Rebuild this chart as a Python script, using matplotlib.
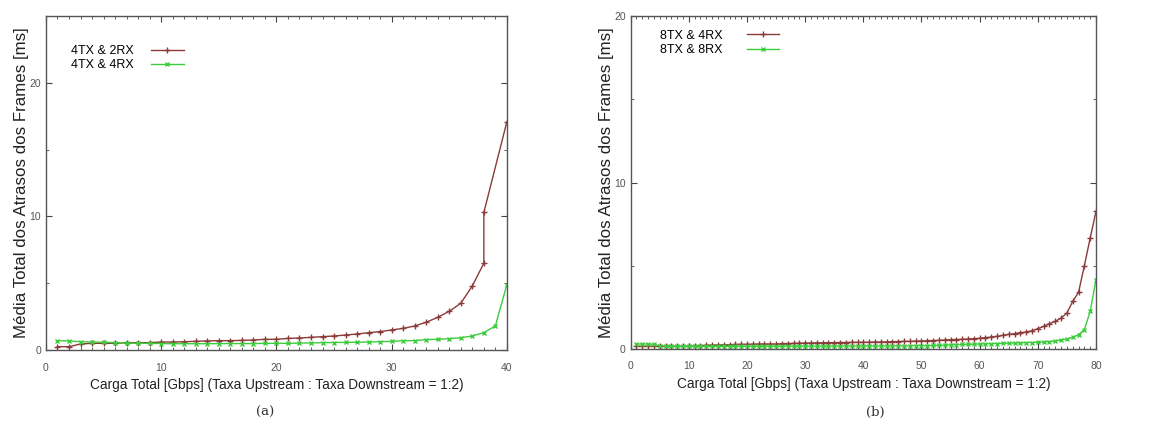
import numpy as np
import matplotlib
matplotlib.use('Agg')
import matplotlib.pyplot as plt
from matplotlib.ticker import MultipleLocator

plt.rcParams['font.family'] = ['Liberation Sans', 'DejaVu Sans']

# Panel (a): load 1..40 Gbps
x_a = list(range(1, 39)) + [38, 40]
red_a = [0.25, 0.25, 0.45, 0.5, 0.5, 0.5, 0.55, 0.55, 0.55, 0.6,
         0.6, 0.62, 0.65, 0.68, 0.7, 0.7, 0.72, 0.75, 0.8, 0.8,
         0.87, 0.9, 0.95, 1.0, 1.05, 1.12, 1.2, 1.3, 1.38, 1.5,
         1.62, 1.8, 2.08, 2.45, 2.9, 3.5, 4.8, 6.5, 10.3, 17.1]
x_a2 = list(range(1, 41))
green_a = [0.7, 0.68, 0.62, 0.6, 0.58, 0.55, 0.52, 0.5, 0.5, 0.48,
           0.47, 0.47, 0.47, 0.47, 0.48, 0.48, 0.48, 0.48, 0.5, 0.5,
           0.5, 0.52, 0.53, 0.55, 0.56, 0.57, 0.58, 0.6, 0.62, 0.65,
           0.7, 0.7, 0.78, 0.8, 0.85, 0.92, 1.05, 1.3, 1.8, 4.9]

# Panel (b): load 1..80 Gbps
x_b = list(range(1, 81))
red_b = [0.16, 0.16, 0.16, 0.16, 0.16, 0.16, 0.16, 0.16, 0.16, 0.16,
         0.18, 0.2, 0.22, 0.24, 0.24, 0.25, 0.26, 0.27, 0.28, 0.28,
         0.29, 0.3, 0.3, 0.3, 0.3, 0.32, 0.33, 0.34, 0.35, 0.36,
         0.36, 0.37, 0.37, 0.38, 0.38, 0.39, 0.39, 0.4, 0.4, 0.4,
         0.41, 0.42, 0.42, 0.43, 0.44, 0.45, 0.46, 0.46, 0.47, 0.48,
         0.5, 0.51, 0.52, 0.54, 0.56, 0.57, 0.58, 0.6, 0.62, 0.64,
         0.68, 0.72, 0.76, 0.82, 0.88, 0.92, 0.98, 1.02, 1.1, 1.22,
         1.36, 1.52, 1.66, 1.86, 2.16, 2.86, 3.4, 5.0, 6.66, 8.26]
green_b = [0.3, 0.3, 0.3, 0.28, 0.2, 0.18, 0.17, 0.16, 0.16, 0.16,
           0.16, 0.16, 0.16, 0.16, 0.16, 0.16, 0.16, 0.16, 0.16, 0.16,
           0.16, 0.16, 0.16, 0.16, 0.16, 0.17, 0.17, 0.17, 0.17, 0.17,
           0.17, 0.17, 0.17, 0.17, 0.17, 0.18, 0.18, 0.18, 0.18, 0.18,
           0.18, 0.18, 0.18, 0.19, 0.19, 0.19, 0.19, 0.19, 0.2, 0.2,
           0.2, 0.21, 0.22, 0.23, 0.25, 0.26, 0.27, 0.28, 0.29, 0.3,
           0.31, 0.32, 0.33, 0.34, 0.35, 0.36, 0.37, 0.38, 0.39, 0.4,
           0.42, 0.45, 0.48, 0.55, 0.6, 0.7, 0.86, 1.16, 2.26, 4.16]

red_col = '#8b3a3a'
green_col = '#3dcc3d'
tick_col = '#555555'
xlabel = 'Carga Total [Gbps] (Taxa Upstream : Taxa Downstream = 1:2)'
ylabel = 'Média Total dos Atrasos dos Frames [ms]'

fig = plt.figure(figsize=(11.61, 4.22), dpi=100)
ax1 = fig.add_axes([0.0396, 0.1706, 0.397, 0.791])
ax2 = fig.add_axes([0.5432, 0.173, 0.4008, 0.789])


def style(ax, xmax, ymax):
    ax.set_xlim(0, xmax)
    ax.set_ylim(0, ymax)
    ax.xaxis.set_major_locator(MultipleLocator(10))
    ax.xaxis.set_minor_locator(MultipleLocator(1))
    ax.yaxis.set_major_locator(MultipleLocator(10))
    ax.yaxis.set_minor_locator(MultipleLocator(5))
    ax.tick_params(which='both', direction='in', top=True, right=True,
                   colors='#444444', labelcolor=tick_col, labelsize=7.5)
    ax.tick_params(axis='x', which='major', pad=9)
    ax.tick_params(which='major', length=4)
    ax.tick_params(which='minor', length=2.5)
    for s in ax.spines.values():
        s.set_color('#555555')
        s.set_linewidth(1.0)
    ax.set_xlabel(xlabel, fontsize=9.8, color='#222222', labelpad=4)
    ax.set_ylabel(ylabel, fontsize=12.2, color='#222222', labelpad=0)


ax1.plot(x_a, red_a, color=red_col, marker='+', markersize=4.5, linewidth=1.0,
         label='4TX & 2RX')
ax1.plot(x_a2, green_a, color=green_col, marker='x', markersize=3.5, linewidth=1.0,
         label='4TX & 4RX')
style(ax1, 40, 25)
ax1.legend(loc='upper left', bbox_to_anchor=(0.035, 0.94), frameon=False,
           markerfirst=False, fontsize=9, handlelength=2.6, labelspacing=0.2,
           handletextpad=1.4, borderaxespad=0.3)

ax2.plot(x_b, red_b, color=red_col, marker='+', markersize=4.5, linewidth=1.0,
         label='8TX & 4RX')
ax2.plot(x_b, green_b, color=green_col, marker='x', markersize=3.5, linewidth=1.0,
         label='8TX & 8RX')
style(ax2, 80, 20)
ax2.legend(loc='upper left', bbox_to_anchor=(0.045, 0.985), frameon=False,
           markerfirst=False, fontsize=9, handlelength=2.6, labelspacing=0.2,
           handletextpad=1.9, borderaxespad=0.3)

fig.text(265 / 1161, 1 - 412 / 422, '(a)', ha='center', va='center',
         fontsize=9.5, family='DejaVu Serif', color='#333333')
fig.text(875 / 1161, 1 - 412 / 422, '(b)', ha='center', va='center',
         fontsize=9.5, family='DejaVu Serif', color='#333333')

fig.savefig('out.png', dpi=100)
